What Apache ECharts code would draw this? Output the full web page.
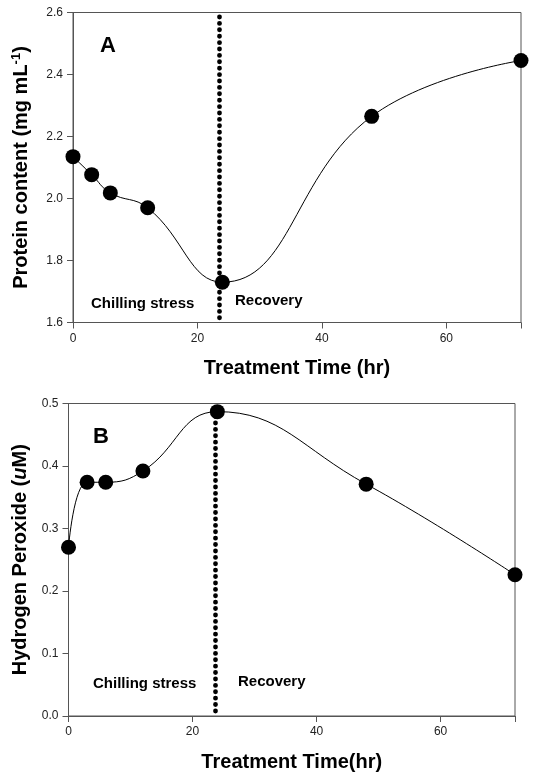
<!DOCTYPE html>
<html><head><meta charset="utf-8">
<script src="https://cdn.jsdelivr.net/npm/echarts@6/dist/echarts.min.js"></script>
<style>html,body{margin:0;padding:0;background:#fff}#c{width:535px;height:774px}</style>
</head><body><div id="c"></div>
<script>
var timeA = [0, 3, 6, 12, 24, 48, 72];
var proteinA = [2.135, 2.077, 2.018, 1.970, 1.730, 2.265, 2.445];
var timeB = [0, 3, 6, 12, 24, 48, 72];
var peroxideB = [0.270, 0.374, 0.374, 0.392, 0.487, 0.371, 0.226];
var dividerA = 23.5, dividerB = 23.7;
var xTicks = [0, 20, 40, 60];

var FONT = '"Liberation Sans", Arial, sans-serif';
var chart = echarts.init(document.getElementById('c'), null, {renderer: 'canvas'});

function pairs(xs, ys){ return xs.map(function(x,i){ return [x, ys[i]]; }); }

function xAxisCfg(idx, name){
  return {
    type: 'value', gridIndex: idx, min: 0, max: 72, interval: 20,
    name: name, nameLocation: 'middle', nameGap: 36,
    nameTextStyle: {fontFamily: FONT, fontWeight: 'bold', fontSize: 20, color: '#000'},
    axisLine: {show: true, lineStyle: {color: '#555', width: 1}},
    axisTick: {show: true, inside: false, length: 6, lineStyle: {color: '#555'}},
    axisLabel: {fontFamily: FONT, fontSize: 12, color: '#222', margin: 10,
      formatter: function(v){ return xTicks.indexOf(v) >= 0 ? String(v) : ''; }},
    splitLine: {show: false}
  };
}
function yAxisCfg(idx, min, max, interval, name, rich, gap){
  return {
    type: 'value', gridIndex: idx, min: min, max: max, interval: interval,
    name: name, nameLocation: 'middle', nameGap: gap, nameRotate: 90,
    nameTextStyle: {fontFamily: FONT, fontWeight: 'bold', fontSize: 20, color: '#000', rich: rich},
    axisLine: {show: true, lineStyle: {color: '#555', width: 1}},
    axisTick: {show: true, inside: false, length: 6, lineStyle: {color: '#555'}},
    axisLabel: {fontFamily: FONT, fontSize: 12, color: '#222', margin: 10,
      formatter: function(v){ return v.toFixed(1); }},
    splitLine: {show: false}
  };
}

function divider(xv, y0, y1){
  return {
    silent: true, symbol: ['none','none'], label: {show: false},
    lineStyle: {color: '#000', width: 4.8, type: [0.1, 6.3], cap: 'round', opacity: 1},
    data: [[{coord: [xv, y0]}, {coord: [xv, y1]}]]
  };
}

var option = {
  animation: false,
  backgroundColor: '#fff',
  grid: [
    {left: 73, top: 12.5, width: 448, height: 310, show: true, borderColor: '#555', borderWidth: 1, containLabel: false},
    {left: 68.5, top: 403.5, width: 446.5, height: 312.5, show: true, borderColor: '#555', borderWidth: 1, containLabel: false}
  ],
  xAxis: [xAxisCfg(0, 'Treatment Time (hr)'), xAxisCfg(1, 'Treatment Time(hr)')],
  yAxis: [
    yAxisCfg(0, 1.6, 2.6, 0.2, 'Protein content (mg mL{sup|-1})',
      {sup: {fontFamily: FONT, fontWeight: 'bold', fontSize: 13, color: '#000', verticalAlign: 'top', padding: [0,0,10,0]}}, 40),
    yAxisCfg(1, 0, 0.5, 0.1, 'Hydrogen Peroxide ({it|u}M)',
      {it: {fontFamily: FONT, fontWeight: 'bold', fontStyle: 'italic', fontSize: 20, color: '#000'}}, 38)
  ],
  series: [
    {
      type: 'line', xAxisIndex: 0, yAxisIndex: 0, data: pairs(timeA, proteinA),
      smooth: 0.45, clip: false, symbol: 'circle', symbolSize: 15,
      itemStyle: {color: '#000'}, lineStyle: {color: '#000', width: 1},
      markLine: divider(dividerA, 1.615, 2.59), z: 3
    },
    {
      type: 'line', xAxisIndex: 1, yAxisIndex: 1, data: pairs(timeB, peroxideB),
      smooth: 0.45, clip: false, symbol: 'circle', symbolSize: 15,
      itemStyle: {color: '#000'}, lineStyle: {color: '#000', width: 1},
      markLine: divider(dividerB, 0.008, 0.482), z: 3
    }
  ],
  graphic: [
    {type: 'text', left: 100, top: 35, style: {text: 'A', font: 'bold 22px ' + FONT, fill: '#000'}},
    {type: 'text', left: 91, top: 296, style: {text: 'Chilling stress', font: 'bold 15px ' + FONT, fill: '#000'}},
    {type: 'text', left: 235, top: 293, style: {text: 'Recovery', font: 'bold 15px ' + FONT, fill: '#000'}},
    {type: 'text', left: 93, top: 426, style: {text: 'B', font: 'bold 22px ' + FONT, fill: '#000'}},
    {type: 'text', left: 93, top: 676, style: {text: 'Chilling stress', font: 'bold 15px ' + FONT, fill: '#000'}},
    {type: 'text', left: 238, top: 674, style: {text: 'Recovery', font: 'bold 15px ' + FONT, fill: '#000'}}
  ]
};
chart.setOption(option);
</script>
</body></html>
